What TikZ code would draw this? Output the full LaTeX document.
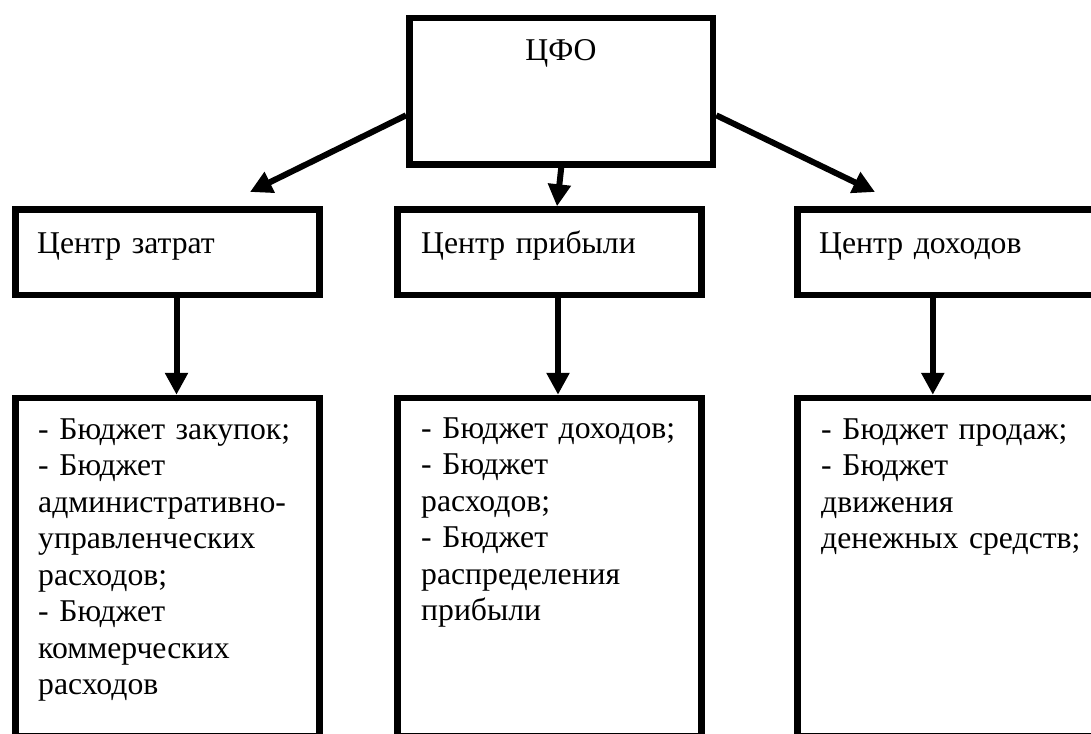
\documentclass[tikz,border=0pt]{standalone}
\usepackage{fontspec}
\setmainfont{Liberation Serif}
\usetikzlibrary{arrows.meta}
\tikzset{
  blk/.style={draw, line width=6.5pt, inner sep=0pt},
  lbl/.style={inner sep=0pt, font=\fontsize{31.7}{36.5}\selectfont},
  txt/.style={lbl, anchor=base west, text width=300pt, align=left},
  arr/.style={line width=6pt, -{Triangle[length=22pt,width=22pt]}}
}
\begin{document}
\begin{tikzpicture}[x=1pt,y=-1pt]
\useasboundingbox (0,0) rectangle (1091,733);
\clip (0,0) rectangle (1091,733);
% top box
\node[blk, minimum width=303.7pt, minimum height=146.7pt] (cfo) at (561.2,91.3) {};
\node[lbl, anchor=base] (cfotxt) at (561,61) {ЦФО};
% centres
\node[blk, minimum width=304.3pt, minimum height=85.5pt] (cost) at (167.5,252.3) {};
\node[blk, minimum width=304.3pt, minimum height=85.5pt] (profit) at (549.5,252.3) {};
\node[blk, minimum width=312.5pt, minimum height=85.5pt] (income) at (953.8,252.3) {};
\node[txt] (costtxt) at (37,253) {Центр затрат};
\node[txt] (profittxt) at (421,253) {Центр прибыли};
\node[txt] (incometxt) at (819,253) {Центр доходов};
% budgets
\node[blk, minimum width=304.3pt, minimum height=338pt] (costlist) at (167.5,567) {};
\node[blk, minimum width=304.3pt, minimum height=338pt] (profitlist) at (549.5,567) {};
\node[blk, minimum width=312.5pt, minimum height=338pt] (incomelist) at (953.8,567) {};
\node[txt] (costlisttxt) at (38,439) {- Бюджет закупок;\\- Бюджет\\административно-\\управленческих\\расходов;\\- Бюджет\\коммерческих\\расходов};
\node[txt] (profitlisttxt) at (421,438) {- Бюджет доходов;\\- Бюджет\\расходов;\\- Бюджет\\распределения\\прибыли};
\node[txt] (incomelisttxt) at (821,439) {- Бюджет продаж;\\- Бюджет\\движения\\денежных средств;};
% arrows
\coordinate (tipL) at (250,192);
\coordinate (tipR) at (875,192);
\draw[arr] ([yshift=-24pt]cfo.west) -- (tipL);
\draw[arr] ([yshift=-24pt]cfo.east) -- (tipR);
\draw[arr] (cfo.south) -- ([xshift=7.5pt]profit.north);
\draw[arr] ([xshift=9pt]cost.south) -- ([xshift=9pt]costlist.north);
\draw[arr] ([xshift=8.5pt]profit.south) -- ([xshift=8.5pt]profitlist.north);
\draw[arr] ([xshift=-21pt]income.south) -- ([xshift=-21pt]incomelist.north);
\end{tikzpicture}
\end{document}
